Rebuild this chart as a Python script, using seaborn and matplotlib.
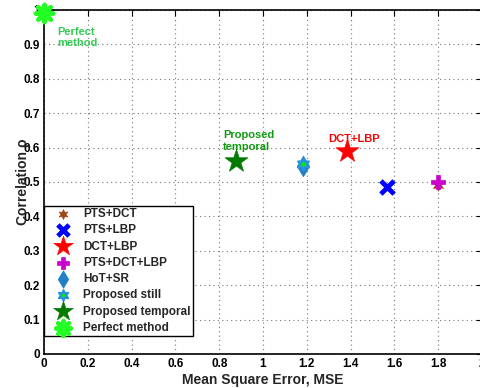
import matplotlib
matplotlib.use("Agg")
import matplotlib.pyplot as plt
import seaborn as sns
import pandas as pd

# Methods compared: mean square error vs. correlation
methods = ["PTS+DCT", "PTS+LBP", "DCT+LBP", "PTS+DCT+LBP", "HoT+SR",
           "Proposed still", "Proposed temporal", "Perfect method"]
mse = [1.80, 1.565, 1.382, 1.80, 1.181, 1.184, 0.877, 0.0]
corr = [0.491, 0.485, 0.590, 0.501, 0.547, 0.551, 0.562, 0.992]

df = pd.DataFrame({"method": methods, "mse": mse, "corr": corr})

sns.set_theme(style="white")
plt.rcParams["font.family"] = ["Liberation Sans", "DejaVu Sans"]
plt.rcParams["font.weight"] = "bold"

# marker, size (points^2), face colour, edge colour, edge width
styles = {
    "PTS+DCT":           ((6, 1, 0), 70,  "#a0441a", "#a0441a", 0.5),
    "PTS+LBP":           ("x",       90,  "#0000ff", "#0000ff", 3.5),
    "DCT+LBP":           ("*",       300, "#ff0000", "#ff0000", 0.5),
    "PTS+DCT+LBP":       ("P",       110, "#cc00cc", "#cc00cc", 0.5),
    "HoT+SR":            ("d",       110, "#1f7fc8", "#1f7fc8", 0.5),
    "Proposed still":    ((6, 1, 0), 80,  "#00ee00", "#2a90e0", 1.5),
    "Proposed temporal": ("*",       300, "#007a00", "#007a00", 0.5),
    "Perfect method":    ((8, 2, 0), 160, "#22ff22", "#22ff22", 3.0),
}

fig = plt.figure(figsize=(4.8, 3.88), dpi=100)
ax = fig.add_axes([44 / 480, 34 / 388, 438 / 480, 344 / 388])

for m in methods:
    mk, s, fc, ec, lw = styles[m]
    sub = df[df["method"] == m]
    if mk == "x" or mk == (8, 2, 0):
        sns.scatterplot(data=sub, x="mse", y="corr", ax=ax, marker=mk, s=s,
                        color=fc, linewidth=lw, label=m, zorder=5,
                        clip_on=False)
    else:
        sns.scatterplot(data=sub, x="mse", y="corr", ax=ax, marker=mk, s=s,
                        color=fc, edgecolor=ec, linewidth=lw, label=m,
                        zorder=5, clip_on=False)

ax.set_xlim(0, 2)
ax.set_ylim(0, 1)
ax.set_xticks([0, 0.2, 0.4, 0.6, 0.8, 1, 1.2, 1.4, 1.6, 1.8, 2])
ax.set_xticklabels(["0", "0.2", "0.4", "0.6", "0.8", "1", "1.2", "1.4",
                    "1.6", "1.8", "2"])
ax.set_yticks([0, 0.1, 0.2, 0.3, 0.4, 0.5, 0.6, 0.7, 0.8, 0.9, 1])
ax.set_yticklabels(["0", "0.1", "0.2", "0.3", "0.4", "0.5", "0.6", "0.7",
                    "0.8", "0.9", "1"])
ax.tick_params(axis="both", direction="in", length=4, width=0.8,
               labelsize=8.5, top=True, right=True, pad=3, colors="black")
for lab in ax.get_xticklabels() + ax.get_yticklabels():
    lab.set_fontweight("bold")

ax.grid(True, linestyle=(0, (1, 3)), color="#777777", linewidth=0.8)
for sp in ax.spines.values():
    sp.set_color("black")
    sp.set_linewidth(1.2)

ax.set_xlabel("Mean Square Error, MSE", fontsize=10, fontweight="bold",
              labelpad=2)
ax.set_ylabel("Correlation \u03c1", fontsize=10, fontweight="bold",
              labelpad=-5)

ax.text(0.06, 0.92, "Perfect\nmethod", color="#33cc55", fontsize=8,
        fontweight="bold", ha="left", va="center", linespacing=1.2)
ax.text(0.817, 0.619, "Proposed\ntemporal", color="#119911", fontsize=8,
        fontweight="bold", ha="left", va="center", linespacing=1.2)
ax.text(1.297, 0.625, "DCT+LBP", color="#ff0000", fontsize=8,
        fontweight="bold", ha="left", va="center")

leg = ax.legend(loc="lower left", bbox_to_anchor=(0, 0.052),
                borderaxespad=0, fontsize=8.5, frameon=True, fancybox=False,
                edgecolor="black", framealpha=1, labelspacing=0.36,
                handletextpad=0.3, borderpad=0.2, handlelength=2.8,
                markerscale=0.85)
leg.get_frame().set_linewidth(1.0)
for t in leg.get_texts():
    t.set_fontweight("bold")

fig.savefig("out.png", dpi=100)
